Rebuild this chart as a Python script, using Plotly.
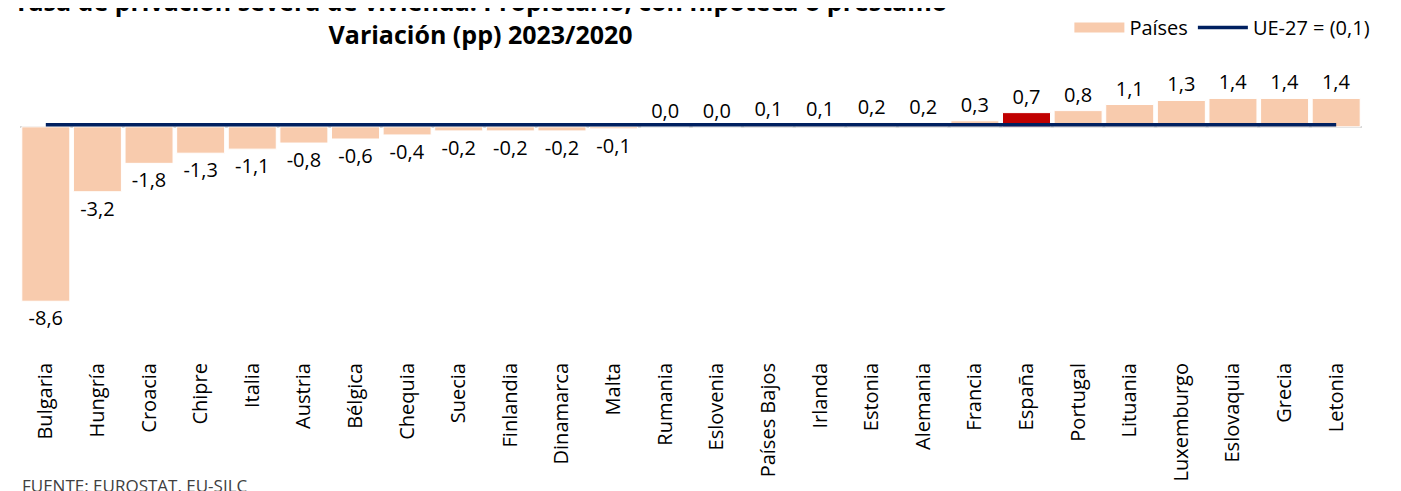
import plotly.graph_objects as go

paises = ['Bulgaria', 'Hungría', 'Croacia', 'Chipre', 'Italia', 'Austria', 'Bélgica',
          'Chequia', 'Suecia', 'Finlandia', 'Dinamarca', 'Malta', 'Rumania', 'Eslovenia',
          'Países Bajos', 'Irlanda', 'Estonia', 'Alemania', 'Francia', 'España',
          'Portugal', 'Lituania', 'Luxemburgo', 'Eslovaquia', 'Grecia', 'Letonia']
variacion = [-8.6, -3.2, -1.8, -1.3, -1.1, -0.8, -0.6, -0.4, -0.2, -0.2, -0.2, -0.1,
             0.0, 0.0, 0.1, 0.1, 0.2, 0.2, 0.3, 0.7, 0.8, 1.1, 1.3, 1.4, 1.4, 1.4]
ue27 = [0.1] * len(paises)
destacado = 'España'

FONT = 'Open Sans'
PEACH = '#F8CBAD'
colores = ['#C00000' if p == destacado else PEACH for p in paises]
etiquetas = [f'{v:.1f}'.replace('.', ',') for v in variacion]

fig = go.Figure()
fig.add_trace(go.Bar(
    x=paises, y=variacion, name='Países', showlegend=False,
    marker=dict(color=colores, line=dict(color='white', width=1)),
    text=etiquetas, textposition='outside', cliponaxis=False,
    textfont=dict(family=FONT, size=20, color='#000000'),
))
# legend-only entry so the swatch is a wide block like the original
fig.add_trace(go.Scatter(
    x=[None], y=[None], name='Países', mode='lines',
    line=dict(color=PEACH, width=10),
))
fig.add_trace(go.Scatter(
    x=paises, y=ue27, name='UE-27 = (0,1)', mode='lines',
    line=dict(color='#002060', width=3.5),
))

# the page body adds an 8px offset, margins account for it
fig.update_layout(
    width=1401, height=491,
    margin=dict(l=12, r=47, t=58, b=141, autoexpand=False),
    paper_bgcolor='white', plot_bgcolor='white',
    font=dict(family=FONT, size=17, color='#000000'),
    bargap=0.07,
    showlegend=True,
    legend=dict(orientation='h', xref='container', yref='container',
                x=0.976, xanchor='right', y=1.0, yanchor='top',
                font=dict(size=20), itemwidth=50,
                traceorder='normal'),
)
fig.update_xaxes(tickangle=-90, showline=False, showgrid=False, ticks='',
                 tickfont=dict(size=20))
fig.update_yaxes(range=[-11.4, 3.0], visible=True, showgrid=False, showticklabels=False,
                 zeroline=True, zerolinecolor='#D9D9D9', zerolinewidth=2, showline=False)

fig.add_annotation(
    text='<b>Tasa de privación severa de vivienda. Propietario, con hipoteca o préstamo</b><br>'
         '<b>Variación (pp) 2023/2020</b>',
    xref='paper', yref='paper', x=(480 - 20) / 1342, y=1.043,
    xanchor='center', yanchor='bottom', showarrow=False,
    font=dict(family=FONT, size=25, color='#000000'),
)
fig.add_annotation(
    text='FUENTE: EUROSTAT, EU-SILC',
    xref='paper', yref='paper', x=0.0, y=-0.39,
    xanchor='left', yanchor='top', showarrow=False,
    font=dict(family=FONT, size=17, color='#404040'),
)

fig.write_html('out.html')
